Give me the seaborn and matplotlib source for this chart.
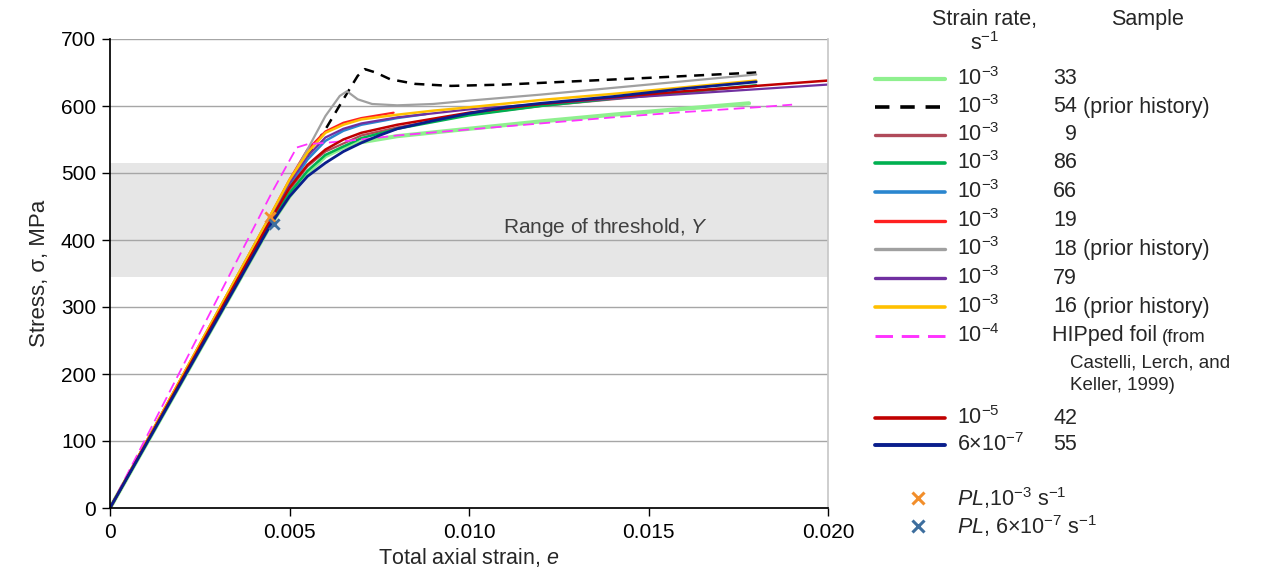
import matplotlib
matplotlib.use("Agg")
import matplotlib.pyplot as plt
from matplotlib.lines import Line2D
import seaborn as sns
import pandas as pd

sns.set_theme(style="white")
plt.rcParams['font.family'] = ['Liberation Sans', 'DejaVu Sans']
plt.rcParams['mathtext.fontset'] = 'custom'
plt.rcParams['mathtext.rm'] = 'Liberation Sans'
plt.rcParams['mathtext.it'] = 'Liberation Sans:italic'
plt.rcParams['mathtext.default'] = 'regular'

# ---------------- data (strain, stress MPa) ----------------
s33_x = [0, 0.0045, 0.005, 0.0055, 0.006, 0.0065, 0.007, 0.008, 0.010, 0.012, 0.014, 0.016, 0.0178]
s33_y = [0, 425, 465, 500, 525, 538, 546, 555, 566, 577, 587, 596, 604]

s54_x = [0, 0.0045, 0.0055, 0.006, 0.0065, 0.0069, 0.0071, 0.0074, 0.0078, 0.0085, 0.0095, 0.011, 0.013, 0.015, 0.018]
s54_y = [0, 435, 525, 565, 610, 645, 655, 650, 640, 633, 630, 632, 637, 642, 650]

s9_x = [0, 0.0045, 0.005, 0.0055, 0.006, 0.007, 0.008, 0.010, 0.012, 0.014, 0.016, 0.018]
s9_y = [0, 430, 475, 510, 532, 556, 568, 587, 600, 610, 620, 630]

s86_x = [0, 0.0045, 0.005, 0.0055, 0.006, 0.007, 0.008, 0.010, 0.012, 0.014, 0.016, 0.018]
s86_y = [0, 428, 470, 503, 527, 552, 566, 586, 600, 611, 621, 631]

s66_x = [0, 0.0045, 0.005, 0.0055, 0.006, 0.0065, 0.007, 0.008, 0.0088]
s66_y = [0, 435, 480, 520, 548, 563, 572, 582, 588]

s19_x = [0, 0.0045, 0.005, 0.0055, 0.006, 0.0065, 0.007, 0.0079]
s19_y = [0, 440, 490, 535, 562, 575, 582, 590]

s18_x = [0, 0.0045, 0.0055, 0.006, 0.0064, 0.0066, 0.0069, 0.0073, 0.008, 0.009, 0.010, 0.012, 0.014, 0.016, 0.018]
s18_y = [0, 440, 535, 585, 615, 622, 610, 603, 601, 603, 608, 617, 627, 637, 647]

s79_x = [0, 0.0045, 0.005, 0.0055, 0.006, 0.0065, 0.007, 0.008, 0.010, 0.012, 0.014, 0.016, 0.018, 0.020]
s79_y = [0, 437, 485, 525, 553, 566, 574, 583, 595, 603, 611, 618, 625, 632]

s16_x = [0, 0.0045, 0.005, 0.0055, 0.006, 0.0065, 0.007, 0.008, 0.009, 0.010, 0.012, 0.014, 0.016, 0.018]
s16_y = [0, 440, 490, 530, 560, 572, 580, 587, 593, 598, 609, 618, 628, 638]

hip_x = [0, 0.0045, 0.0052, 0.0055, 0.006, 0.007, 0.008, 0.010, 0.012, 0.014, 0.016, 0.018, 0.019]
hip_y = [0, 470, 538, 543, 545, 550, 556, 565, 574, 583, 591, 598, 602]

s42_x = [0, 0.0045, 0.005, 0.0055, 0.006, 0.0065, 0.007, 0.008, 0.010, 0.012, 0.014, 0.016, 0.018, 0.020]
s42_y = [0, 432, 478, 512, 535, 550, 560, 572, 590, 603, 613, 622, 630, 638]

s55_x = [0, 0.0045, 0.005, 0.0055, 0.006, 0.0065, 0.007, 0.0075, 0.008, 0.009, 0.010, 0.011, 0.012, 0.013, 0.014, 0.015, 0.016, 0.017, 0.018]
s55_y = [0, 425, 465, 495, 515, 532, 545, 556, 566, 578, 589, 598, 604, 609, 614, 620, 626, 631, 636]

pl_fast = (0.00445, 435)
pl_slow = (0.00458, 424)

threshold_low, threshold_high = 345, 515

rate_labels = ["10$^{-3}$"] * 9 + ["10$^{-4}$", "10$^{-5}$", "6×10$^{-7}$"]
sample_nums = ["33", "54", "9", "86", "66", "19", "18", "79", "16", "", "42", "55"]
sample_suffix = ["", " (prior history)", "", "", "", "", " (prior history)", "", " (prior history)", "", "", ""]

x_ticks = [0, 0.005, 0.010, 0.015, 0.020]
x_ticklabels = ["0", "0.005", "0.010", "0.015", "0.020"]
y_ticks = [0, 100, 200, 300, 400, 500, 600, 700]

# ---------------- styles ----------------
series = [
    (s33_x, s33_y, "#8ff08f", 3.0, "-"),
    (s54_x, s54_y, "#000000", 1.8, (0, (4, 3))),
    (s9_x, s9_y, "#b04a5a", 1.6, "-"),
    (s86_x, s86_y, "#00b050", 1.8, "-"),
    (s66_x, s66_y, "#2a86cf", 1.8, "-"),
    (s19_x, s19_y, "#ff2020", 1.6, "-"),
    (s18_x, s18_y, "#a0a0a0", 1.6, "-"),
    (s79_x, s79_y, "#7030a0", 1.6, "-"),
    (s16_x, s16_y, "#ffc000", 1.8, "-"),
    (hip_x, hip_y, "#ff33ff", 1.3, (0, (6, 3))),
    (s42_x, s42_y, "#c00000", 1.8, "-"),
    (s55_x, s55_y, "#0a1e8c", 2.0, "-"),
]

W, H = 1264, 576
fig = plt.figure(figsize=(W / 100, H / 100), dpi=100)
ax = fig.add_axes([110 / W, 1 - 508 / H, (828 - 110) / W, (508 - 39) / H])

ax.axhspan(threshold_low, threshold_high, color="#e6e6e6", zorder=0.2, lw=0)
for yv in y_ticks[1:]:
    ax.axhline(yv, color="#a6a6a6", lw=1.0, zorder=0.5)

draw_order = [0, 9, 2, 3, 4, 5, 7, 10, 8, 11, 6, 1]
for i in draw_order:
    xs, ys, c, lw, ls = series[i]
    df = pd.DataFrame({"x": xs, "y": ys})
    sns.lineplot(data=df, x="x", y="y", ax=ax, color=c, lw=lw, linestyle=ls,
                 sort=False, estimator=None, zorder=2 + i * 0.01)

ax.scatter([pl_fast[0]], [pl_fast[1]], marker="x", s=55, color="#f28e2b", linewidths=2, zorder=5)
ax.scatter([pl_slow[0]], [pl_slow[1]], marker="x", s=55, color="#3d6e9e", linewidths=2, zorder=5)

ax.text(0.0138, 418, "Range of threshold, $\\mathit{Y}$", fontsize=15, color="#404040",
        ha="center", va="center")

ax.set_xlim(0, 0.020)
ax.set_ylim(0, 700)
ax.set_xticks(x_ticks)
ax.set_xticklabels(x_ticklabels)
ax.set_yticks(y_ticks)
ax.tick_params(axis="both", labelsize=15, colors="#000000", length=6, width=1,
               direction="out", bottom=True, left=True)
ax.tick_params(axis="x", pad=5)
ax.tick_params(axis="y", pad=4)
ax.spines["top"].set_visible(False)
ax.spines["right"].set_color("#c8c8c8")
ax.spines["left"].set_color("#000000")
ax.spines["bottom"].set_color("#000000")
ax.set_xlabel("Total axial strain, $\\mathit{e}$", fontsize=15.5, labelpad=3)
ax.set_ylabel("Stress, σ, MPa", fontsize=16, labelpad=8)
ax.set_facecolor("white")

# ---------------- manual legend ----------------
def fx(px):
    return px / W

def fy(py):
    return 1 - py / H

fs = 15.5
fig.text(fx(985), fy(19), "Strain rate,", fontsize=fs, ha="center", va="center")
fig.text(fx(985), fy(44), "s$^{-1}$", fontsize=fs, ha="center", va="center")
fig.text(fx(1147), fy(19), "Sample", fontsize=fs, ha="center", va="center")

row_y = [79, 107, 135, 163, 192, 221, 249, 278, 307, 336, 418, 445]
for i, yy in enumerate(row_y):
    xs, ys, c, lw, ls = series[i]
    fig.add_artist(Line2D([fx(875), fx(945)], [fy(yy), fy(yy)], color=c,
                          lw=min(lw + 0.8, 3.0), linestyle=ls, transform=fig.transFigure))
    fig.text(fx(957), fy(yy), rate_labels[i], fontsize=fs, ha="left", va="center")
    if sample_nums[i]:
        fig.text(fx(1077), fy(yy), sample_nums[i], fontsize=fs, ha="right", va="center")
        if sample_suffix[i]:
            fig.text(fx(1077), fy(yy), sample_suffix[i], fontsize=fs, ha="left", va="center")

fig.text(fx(1052), fy(336), "HIPped foil", fontsize=fs, ha="left", va="center")
fig.text(fx(1162), fy(337), "(from", fontsize=13.5, ha="left", va="center")
fig.text(fx(1070), fy(363), "Castelli, Lerch, and", fontsize=13.5, ha="left", va="center")
fig.text(fx(1070), fy(386), "Keller, 1999)", fontsize=13.5, ha="left", va="center")

fig.add_artist(Line2D([fx(918)], [fy(498)], marker="x", markersize=8, mew=2.2,
                      color="#f28e2b", transform=fig.transFigure))
fig.add_artist(Line2D([fx(918)], [fy(526)], marker="x", markersize=8, mew=2.2,
                      color="#3d6e9e", transform=fig.transFigure))
fig.text(fx(957), fy(498), "$\\mathit{PL}$,10$^{-3}$ s$^{-1}$", fontsize=fs, ha="left", va="center")
fig.text(fx(957), fy(526), "$\\mathit{PL}$, 6×10$^{-7}$ s$^{-1}$", fontsize=fs, ha="left", va="center")

fig.savefig("out.png", dpi=100, facecolor="white")
